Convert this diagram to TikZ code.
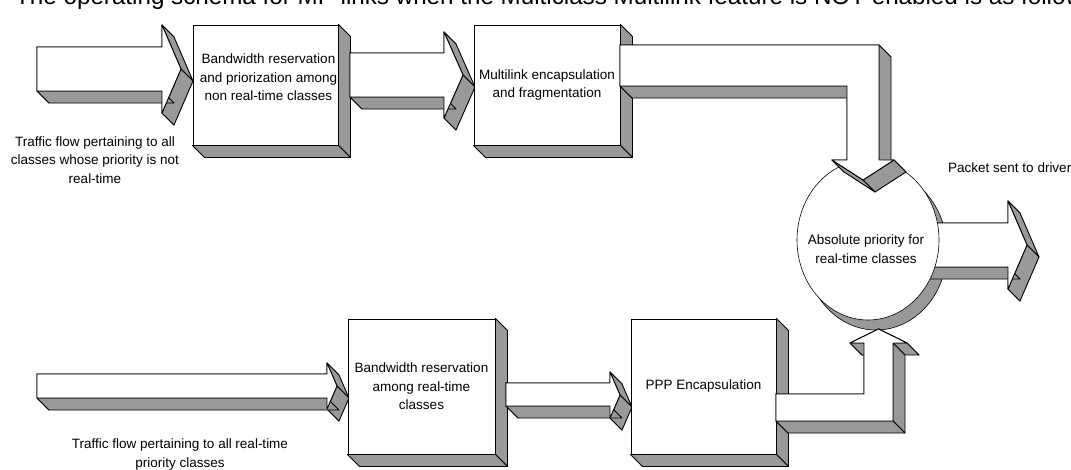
\documentclass[tikz,border=0pt]{standalone}
\usepackage{fontspec}
\setmainfont{Liberation Sans}
\usepackage{xcolor}
\usetikzlibrary{shapes.geometric}

\definecolor{sidegray}{HTML}{999999}
\newcommand\dep{12}

% extruded block: list of x/y points (clockwise, closed), y going down
\newcommand\slab[1]{%
  \gdef\slabpath{}%
  \foreach \px/\py [count=\i] in {#1}{%
    \ifnum\i=1 \xdef\slabstart{(\px,\py)}%
    \else \xdef\slabpath{\slabpath -- (\px,\py)}\fi}%
  \foreach \pass in {0,1}{%
    \foreach \px/\py [count=\i, remember=\px as \qx, remember=\py as \qy] in {#1}{%
      \ifnum\i>1
        \pgfmathtruncatemacro\vis{((\py)-(\qy))-((\px)-(\qx))>0}%
        \ifnum\vis=\pass
          \filldraw[side] (\qx,\qy) -- (\px,\py) -- ++(\dep,\dep) -- ++(\qx-\px,\qy-\py) -- cycle;
        \fi
      \fi}}%
  \filldraw[front] \slabstart \slabpath -- cycle;}

% right and bottom faces of a box node
\newcommand\boxdepth[1]{%
  \filldraw[side] (#1.north east) -- ++(\dep,\dep) -- ([shift={(\dep,\dep)}]#1.south east) -- (#1.south east) -- cycle;
  \filldraw[side] (#1.south west) -- ++(\dep,\dep) -- ([shift={(\dep,\dep)}]#1.south east) -- (#1.south east) -- cycle;}

\begin{document}
\begin{tikzpicture}[x=1pt,y=-1pt,
  side/.style={draw,fill=sidegray,line width=0.9pt,line join=round},
  front/.style={draw,fill=white,line width=0.9pt,line join=round},
  txt/.style={font=\fontsize{13.5}{18.5}\selectfont,align=center,inner sep=0pt},
  box/.style={rectangle,draw,fill=white,line width=0.9pt,inner sep=0pt,
    font=\fontsize{13.5}{18.5}\selectfont,align=center,minimum width=145pt,minimum height=120pt}]
  \useasboundingbox (0,0) rectangle (1071,469);
  \clip (0,0) rectangle (1071,469);

  \node[anchor=base west,inner sep=0pt,font=\fontsize{24.2}{28}\selectfont] (title) at (15,4)
    {The operating schema for MP links when the Multiclass Multilink feature is NOT enabled is as follows};

  % non real-time path
  \slab{37/47, 162/47, 162/25, 181/69, 162/113, 162/91, 37/91, 37/47}
  \node[box] (bwnrt) at (265.5,85) {};
  \boxdepth{bwnrt}
  \node[txt] (bwnrt-lbl) at (268.5,77.5) {Bandwidth reservation\\and priorization among\\non real-time classes};
  \slab{350/53, 444/53, 444/32, 463/75, 444/118, 444/97, 350/97, 350/53}
  \node[box,minimum width=146pt] (mlenc) at (547,85) {Multilink encapsulation\\and fragmentation};
  \boxdepth{mlenc}

  % real-time path
  \slab{37/374, 327/374, 327/363, 337/386, 327/409, 327/398, 37/398, 37/374}
  \node[box,minimum width=147pt,minimum height=135pt] (bwrt) at (421.5,386.5)
    {Bandwidth reservation\\among real-time\\classes};
  \boxdepth{bwrt}
  \slab{506/383, 610/383, 610/372, 620/395, 610/418, 610/406, 506/406, 506/383}
  \node[box,minimum height=135pt] (pppenc) at (703.5,386.5) {PPP Encapsulation};
  \boxdepth{pppenc}

  % absolute priority
  \coordinate (prio) at (868,240);
  \filldraw[side,line width=0.6pt] ([shift={(8,10)}]prio) ellipse (71 and 80);
  \slab{900/223, 1008/223, 1008/201, 1027/245, 1008/289, 1008/267, 900/267, 900/223}
  \node[ellipse,draw,fill=white,line width=0.6pt,inner sep=0pt,
    minimum width=142pt,minimum height=160pt] (absprio) at (prio) {};
  \node[txt] (absprio-lbl) at (866,249) {Absolute priority for\\real-time classes};

  % bent arrows into the circle
  \slab{620/45, 879/45, 879/160, 894/160, 863/180, 832/160, 847/160, 847/86, 620/86, 620/45}
  \slab{776/394, 864/394, 864/343, 850/343, 878.5/329, 907/343, 893/343, 893/421, 776/421, 776/394}

  % texts
  \node[txt] (nrtflow) at (95,160) {Traffic flow pertaining to all\\classes whose priority is not\\real-time};
  \node[txt] (rtflow) at (180,454.5) {Traffic flow pertaining to all real-time\\priority classes};
  \node[txt,anchor=west] (driver) at (948,168) {Packet sent to driver};
\end{tikzpicture}
\end{document}
